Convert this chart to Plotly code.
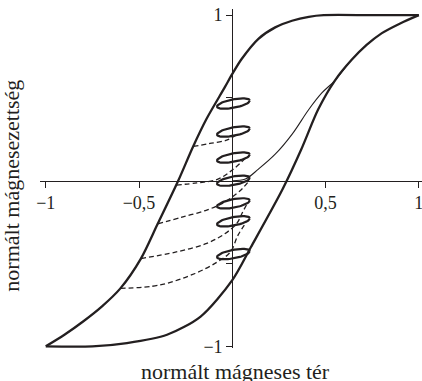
import numpy as np
import plotly.graph_objects as go

# major loop, descending branch (from +saturation down to -saturation)
upper_h = [1.0, 0.75, 0.49, 0.41, 0.32, 0.23, 0.14, 0.05, 0.0, -0.04, -0.14, -0.21,
           -0.29, -0.40, -0.49, -0.60, -0.70, -0.80, -0.90, -1.0]
upper_m = [1.0, 1.0, 1.0, 0.99, 0.966, 0.926, 0.857, 0.735, 0.645, 0.565, 0.37, 0.207,
           0.0, -0.26, -0.47, -0.65, -0.76, -0.85, -0.93, -1.0]

# major loop, ascending branch
lower_h = [-1.0, -0.75, -0.565, -0.35, -0.17, 0.0, 0.10, 0.27, 0.37, 0.46, 0.55, 0.64,
           0.72, 0.80, 0.90, 1.0]
lower_m = [-1.0, -1.0, -0.98, -0.93, -0.82, -0.60, -0.40, -0.05, 0.19, 0.43, 0.605, 0.73,
           0.82, 0.89, 0.95, 1.0]

# initial magnetization curve (thin), running into the ascending branch
init_h = [0.0, 0.07, 0.14, 0.23, 0.32, 0.41, 0.48, 0.55, 0.62]
init_m = [0.0, 0.01, 0.07, 0.16, 0.28, 0.43, 0.53, 0.605, 0.705]

# small minor loops along the vertical axis
loop_h = [0.006, 0.006, 0.006, 0.006, 0.006, 0.006, 0.006]
loop_m = [0.466, 0.297, 0.14, 0.0, -0.137, -0.245, -0.443]

# dashed recoil curves
dash_a_h = [-0.60, -0.39, -0.20, -0.08, -0.01, 0.03, 0.075]
dash_a_m = [-0.65, -0.63, -0.56, -0.49, -0.43, -0.33, -0.25]
dash_b_h = [-0.49, -0.30, -0.137, -0.04, 0.025, 0.055, 0.08]
dash_b_m = [-0.47, -0.43, -0.378, -0.32, -0.256, -0.19, -0.137]
dash_c_h = [-0.40, -0.27, -0.137, -0.05, 0.025, 0.06, 0.09]
dash_c_m = [-0.26, -0.22, -0.177, -0.135, -0.076, -0.04, 0.0]
dash_d_h = [-0.30, -0.19, -0.08, 0.0, 0.07]
dash_d_m = [-0.026, -0.013, 0.008, 0.065, 0.135]
dash_e_h = [-0.21, -0.12, -0.03, 0.02]
dash_e_m = [0.207, 0.225, 0.245, 0.275]

ink = '#231f20'
font = 'Liberation Serif'
xr = [-1.031, 1.017]
yr = [-1.01, 1.037]

fig = go.Figure()

for hh, mm in [(dash_a_h, dash_a_m), (dash_b_h, dash_b_m), (dash_c_h, dash_c_m),
               (dash_d_h, dash_d_m), (dash_e_h, dash_e_m)]:
    fig.add_trace(go.Scatter(x=hh, y=mm, mode='lines',
                             line=dict(color=ink, width=1.3, dash='5px,3px', shape='spline')))

fig.add_trace(go.Scatter(x=init_h, y=init_m, mode='lines',
                         line=dict(color=ink, width=1.1, shape='spline')))
fig.add_trace(go.Scatter(x=upper_h, y=upper_m, mode='lines',
                         line=dict(color=ink, width=2.3, shape='spline', smoothing=0.8)))
fig.add_trace(go.Scatter(x=lower_h, y=lower_m, mode='lines',
                         line=dict(color=ink, width=2.3, shape='spline', smoothing=0.8)))

# outline of each small loop: a thin tilted ellipse
t = np.linspace(0, 2 * np.pi, 60)
for ch, cm in zip(loop_h, loop_m):
    ex = ch + 0.088 * np.cos(t)
    ey = cm + 0.2 * 0.088 * np.cos(t) + 0.026 * np.sin(t)
    fig.add_trace(go.Scatter(x=ex, y=ey, mode='lines', line=dict(color=ink, width=2.2)))

fig.update_layout(
    width=422, height=381,
    margin=dict(l=40, r=0, t=9, b=33, autoexpand=False),
    plot_bgcolor='white', paper_bgcolor='white',
    showlegend=False,
    hovermode=False,
    font=dict(family=font, color=ink),
    xaxis=dict(range=xr, anchor='free', position=(0 - yr[0]) / (yr[1] - yr[0]),
               automargin=False, ticklabeloverflow='allow',
               showline=True, linecolor=ink, linewidth=1.2, showgrid=False, zeroline=False,
               ticks='outside', ticklen=6, tickwidth=1.2, tickcolor=ink,
               tickvals=[-1, -0.5, 0.5, 1], ticktext=['\u22121', '\u22120,5', '0,5', '1'],
               tickfont=dict(size=18, family=font, color=ink)),
    yaxis=dict(range=yr, anchor='free', position=(0 - xr[0]) / (xr[1] - xr[0]),
               automargin=False, ticklabeloverflow='allow',
               showline=True, linecolor=ink, linewidth=1.2, showgrid=False, zeroline=False,
               ticks='outside', ticklen=6, tickwidth=1.2, tickcolor=ink,
               tickvals=[-1, -0.5, 0.5, 1], ticktext=['\u22121', '', '', '1'],
               tickfont=dict(size=18, family=font, color=ink)),
    annotations=[
        dict(text='normált mágneses tér', xref='paper', yref='paper', x=0.513, y=-0.07,
             xanchor='center', yanchor='middle', showarrow=False,
             font=dict(size=22, family=font, color=ink)),
        dict(text='normált mágnesezettség', xref='paper', yref='paper', x=-0.075, y=0.48,
             xanchor='center', yanchor='middle', textangle=-90, showarrow=False,
             font=dict(size=22, family=font, color=ink)),
    ],
)

# drop the page's default body margin so the figure sits at the window corner
fig.write_html("out.html", config={'displayModeBar': False},
               post_script="document.body.style.margin='0';")
